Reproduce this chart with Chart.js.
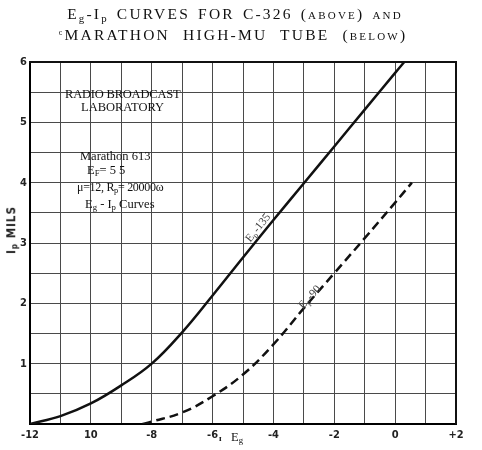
<!DOCTYPE html>
<html>
<head>
<meta charset="utf-8">
<script src="https://cdn.jsdelivr.net/npm/chart.js@4.4.1/dist/chart.umd.min.js"></script>
<style>
html,body{margin:0;padding:0;background:#fff;}
#wrap{position:relative;width:482px;height:450px;overflow:hidden;}
#c{position:absolute;left:0;top:0;}
.t{position:absolute;font-family:"Liberation Serif","DejaVu Serif",serif;color:#111;white-space:nowrap;line-height:1;}
.t sub{font-size:70%;vertical-align:-0.25em;line-height:0;}
.sc{font-variant:small-caps;text-transform:lowercase;}
</style>
</head>
<body>
<div id="wrap">
<canvas id="c" width="482" height="450"></canvas>

<div class="t" style="left:0;width:470px;top:6px;text-align:center;font-size:15.5px;letter-spacing:2.2px;word-spacing:2px;">E<sub>g</sub>-I<sub>p</sub> CURVES FOR C-326 <span class="sc">(ABOVE) AND</span></div>
<div class="t" style="left:0;width:466px;top:27px;text-align:center;font-size:15.5px;letter-spacing:2.2px;word-spacing:7px;"><span style="font-size:8px;vertical-align:5px;">c</span>MARATHON HIGH-MU TUBE <span class="sc">(BELOW)</span></div>

<div class="t" style="left:65px;top:88px;font-size:12.5px;letter-spacing:-0.2px;">RADIO BROADCAST</div>
<div class="t" style="left:81px;top:101px;font-size:12.5px;">LABORATORY</div>
<div class="t" style="left:80px;top:150px;font-size:12.5px;">Marathon 613</div>
<div class="t" style="left:87px;top:164px;font-size:12.5px;">E<sub>F</sub>= 5 5</div>
<div class="t" style="left:77px;top:181px;font-size:12px;letter-spacing:-0.3px;">μ=12, R<sub>p</sub>= 20000ω</div>
<div class="t" style="left:85px;top:198px;font-size:12.5px;">E<sub>g</sub> - I<sub>p</sub> Curves</div>

<div class="t" style="left:219px;top:434px;font-size:9px;font-weight:bold;">ɪ</div>
<div class="t" style="left:231px;top:431px;font-size:12.5px;">E<sub>g</sub></div>

<div class="t" style="left:12px;top:230px;transform:translate(-50%,-50%) rotate(-90deg);font-family:'DejaVu Sans Condensed','DejaVu Sans',sans-serif;font-size:11.5px;font-weight:bold;letter-spacing:1px;color:#222;">I<sub>p</sub> MILS</div>
</div>

<script>
// ---- data ----
// Ep = 135 (solid curve)
const egSolid = [-12, -11, -10, -9, -8, -7, -6, -5, -4, -3, -2, -1, 0, 0.3];
const ipSolid = [0, 0.13, 0.34, 0.64, 1.0, 1.52, 2.13, 2.76, 3.38, 3.99, 4.6, 5.21, 5.82, 6.0];
// Ep = 90 (dashed curve)
const egDashed = [-8.3, -8, -7, -6, -5, -4, -3, -2, -1, 0, 0.55];
const ipDashed = [0, 0.04, 0.19, 0.46, 0.82, 1.32, 1.92, 2.5, 3.08, 3.67, 4.0];
// axis tick labels
const xTickValues = [-12, -10, -8, -6, -4, -2, 0, 2];
const xTickLabels = ['-12', '10', '-8', '-6', '-4', '-2', '0', '+2'];
const yTickValues = [1, 2, 3, 4, 5, 6];
const yTickLabels = ['1', '2', '3', '4', '5', '6'];
// curve labels
const curveLabels = [
  {main: 'E', sub: 'p', rest: '-135', eg: -4.5, ip: 3.25, angle: -51},
  {main: 'E', sub: 'p', rest: '-90', eg: -2.8, ip: 2.1, angle: -48}
];

const toPts = (xs, ys) => xs.map((x, i) => ({x: x, y: ys[i]}));

const framePlugin = {
  id: 'frame',
  afterDraw(chart) {
    const {ctx, chartArea: a} = chart;
    ctx.save();
    ctx.strokeStyle = '#111';
    ctx.lineWidth = 2;
    ctx.beginPath();
    ctx.moveTo(a.left - 1, a.top);
    ctx.lineTo(a.right, a.top);
    ctx.lineTo(a.right, a.bottom);
    ctx.stroke();
    ctx.restore();
  }
};

const labelPlugin = {
  id: 'curveLabels',
  afterDatasetsDraw(chart) {
    const {ctx} = chart;
    const xs = chart.scales.x, ys = chart.scales.y;
    ctx.save();
    curveLabels.forEach(l => {
      const px = xs.getPixelForValue(l.eg), py = ys.getPixelForValue(l.ip);
      ctx.save();
      ctx.translate(px, py);
      ctx.rotate(l.angle * Math.PI / 180);
      ctx.fillStyle = '#444';
      ctx.textBaseline = 'middle';
      ctx.textAlign = 'left';
      const fMain = '11.5px "Liberation Serif", serif';
      const fSub = '8px "Liberation Serif", serif';
      ctx.font = fMain; const w1 = ctx.measureText(l.main).width; const w3 = ctx.measureText(l.rest).width;
      ctx.font = fSub; const w2 = ctx.measureText(l.sub).width;
      let x = -(w1 + w2 + w3 + 1) / 2;
      ctx.font = fMain; ctx.fillText(l.main, x, 0); x += w1;
      ctx.font = fSub; ctx.fillText(l.sub, x, 3); x += w2 + 1;
      ctx.font = fMain; ctx.fillText(l.rest, x, 0);
      ctx.restore();
    });
    ctx.restore();
  }
};

const tickFont = {family: "'DejaVu Sans Condensed','DejaVu Sans',sans-serif", size: 11, weight: 'bold'};

new Chart(document.getElementById('c'), {
  type: 'line',
  data: {
    datasets: [
      {label: 'Ep=135', data: toPts(egSolid, ipSolid), borderColor: '#111', borderWidth: 2.5,
       pointRadius: 0, tension: 0.4, fill: false},
      {label: 'Ep=90', data: toPts(egDashed, ipDashed), borderColor: '#111', borderWidth: 2.5,
       borderDash: [9, 5], pointRadius: 0, tension: 0.4, fill: false}
    ]
  },
  options: {
    responsive: false,
    animation: false,
    devicePixelRatio: 1,
    layout: {padding: {left: 0, right: 26, top: 62, bottom: 0}},
    plugins: {legend: {display: false}, tooltip: {enabled: false}, title: {display: false}},
    scales: {
      x: {
        type: 'linear', min: -12, max: 2,
        afterFit(s) { s.height = 26; },
        grid: {color: '#4a4a4a', lineWidth: 1, drawTicks: false},
        border: {color: '#000', width: 2},
        ticks: {
          stepSize: 1, autoSkip: false, maxRotation: 0, padding: 5,
          color: '#222', font: tickFont,
          callback(v) { const i = xTickValues.indexOf(v); return i >= 0 ? xTickLabels[i] : ''; }
        }
      },
      y: {
        type: 'linear', min: 0, max: 6,
        afterFit(s) { s.width = 30; },
        grid: {color: '#4a4a4a', lineWidth: 1, drawTicks: false},
        border: {color: '#000', width: 2},
        ticks: {
          stepSize: 0.5, autoSkip: false, padding: 3,
          color: '#222', font: tickFont,
          callback(v) { const i = yTickValues.indexOf(v); return i >= 0 ? yTickLabels[i] : ''; }
        }
      }
    }
  },
  plugins: [framePlugin, labelPlugin]
});
</script>
</body>
</html>
